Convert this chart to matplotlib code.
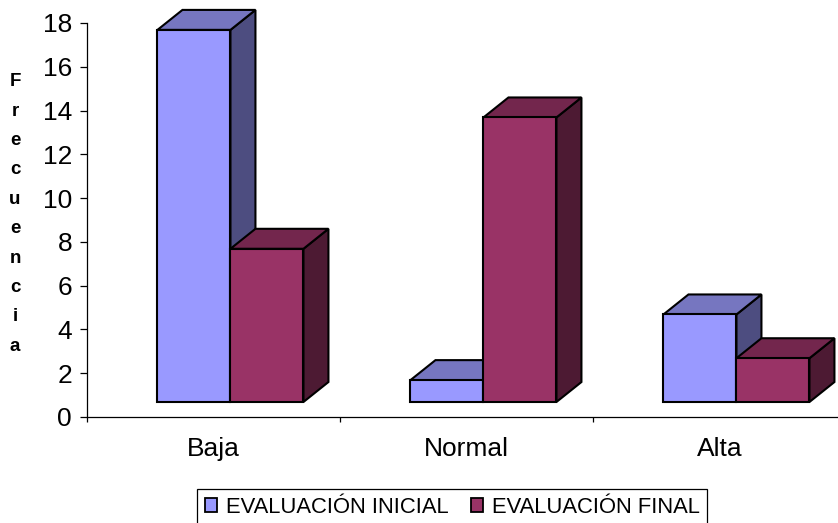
import matplotlib
matplotlib.use("Agg")
import matplotlib.pyplot as plt
from matplotlib.patches import Polygon, Patch

categories = ["Baja", "Normal", "Alta"]
inicial = [17, 1, 4]
final = [7, 13, 2]
series_names = ["EVALUACIÓN INICIAL", "EVALUACIÓN FINAL"]
yticks = list(range(0, 19, 2))
ylabel = "Frecuencia"

plt.rcParams['font.family'] = ['Liberation Sans', 'DejaVu Sans']

# face / top / side shades for each series
colors = [
    ("#9999FF", "#7676C0", "#4D4D80"),
    ("#993366", "#73264D", "#4D1A33"),
]

fig = plt.figure(figsize=(8.38, 5.23), dpi=100)
ax = fig.add_axes([87 / 838, 106 / 523, 759 / 838, 394 / 523])
ax.set_xlim(0, 3)
ax.set_ylim(0, 18)

W = 0.2885            # bar width (category units)
FX, FY = 0.067, 0.685  # offset of the bar row behind the front edge of the floor
DX, DY = 0.0988, 0.913  # depth of each bar (oblique projection)


def draw_box(x0, h, face, top, side):
    x1 = x0 + W
    y0 = FY
    y1 = FY + h
    kw = dict(edgecolor="black", linewidth=1.5, joinstyle="miter",
              clip_on=False, zorder=3)
    ax.add_patch(Polygon([(x1, y0), (x1 + DX, y0 + DY), (x1 + DX, y1 + DY), (x1, y1)],
                         facecolor=side, **kw))
    ax.add_patch(Polygon([(x0, y1), (x0 + DX, y1 + DY), (x1 + DX, y1 + DY), (x1, y1)],
                         facecolor=top, **kw))
    ax.add_patch(Polygon([(x0, y0), (x1, y0), (x1, y1), (x0, y1)],
                         facecolor=face, **kw))


for i in range(len(categories)):
    left = i + 0.5 - W + FX
    for k, vals in enumerate([inicial, final]):
        draw_box(left + k * W, vals[i], *colors[k])

# axes styling
for s in ["top", "right"]:
    ax.spines[s].set_visible(False)
for s in ["left", "bottom"]:
    ax.spines[s].set_linewidth(0.9)
    ax.spines[s].set_color("black")

ax.set_yticks(yticks)
ax.set_yticklabels([str(t) for t in yticks])
ax.tick_params(axis="y", direction="out", length=5, width=0.9, pad=5.8, labelsize=19)

ax.set_xticks([0.5, 1.5, 2.5])
ax.set_xticklabels(categories)
ax.set_xticks([0, 1, 2, 3], minor=True)
ax.tick_params(axis="x", which="major", length=0, pad=14.4, labelsize=19)
ax.tick_params(axis="x", which="minor", direction="out", length=3.6, width=0.9)

fig.text(15 / 838, 1 - 214 / 523, "\n".join(ylabel), ha="center", va="center",
         fontsize=13.5, fontweight="bold", linespacing=1.95)

handles = [Patch(facecolor=colors[k][0], edgecolor="black", linewidth=1.3)
           for k in range(2)]
leg = fig.legend(handles, series_names, loc="upper left",
                 bbox_to_anchor=(197 / 838, 1 - 489 / 523), ncol=2, fontsize=15.8,
                 frameon=True, fancybox=False, edgecolor="black", framealpha=1,
                 borderpad=0.35, handlelength=0.55, handleheight=0.55,
                 handletextpad=0.42, columnspacing=1.0, borderaxespad=0)
leg.get_frame().set_linewidth(0.9)

fig.savefig("out.png", dpi=100)
